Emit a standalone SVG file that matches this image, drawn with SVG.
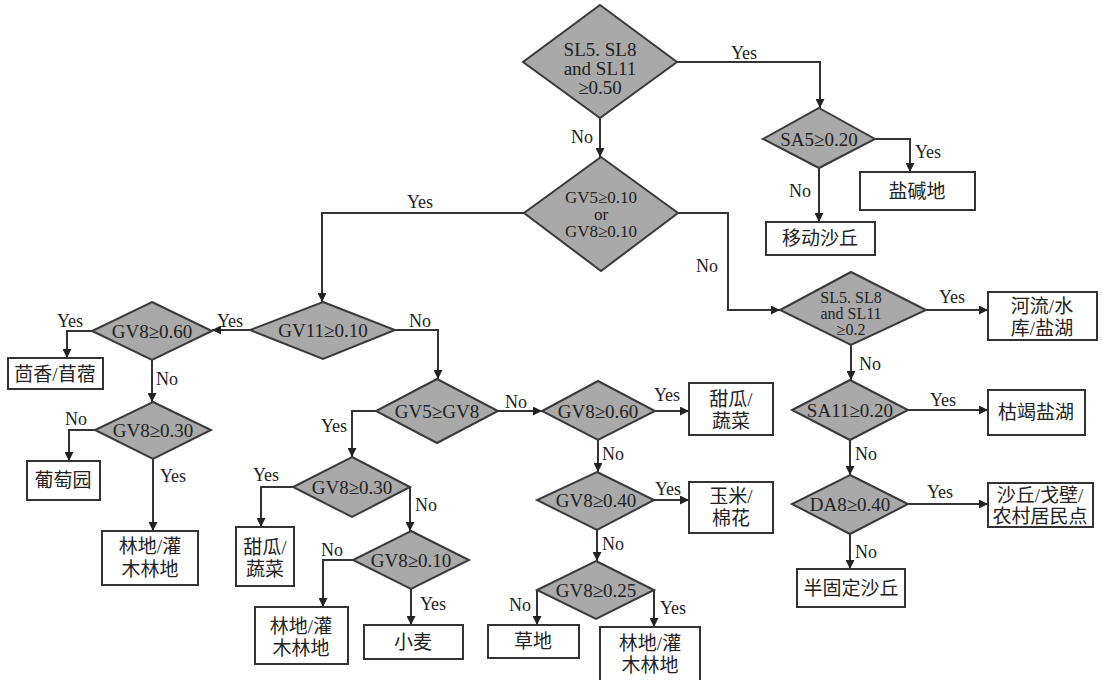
<svg xmlns="http://www.w3.org/2000/svg" width="1103" height="680" viewBox="0 0 1103 680">
<style>
.d{fill:#a9a9a9;stroke:#3a3a3a;stroke-width:2}
.b{fill:#fff;stroke:#333;stroke-width:2}
.c{fill:none;stroke:#333;stroke-width:2}
text{font-family:"Liberation Serif","Noto Sans CJK SC",serif;fill:#222;text-anchor:middle}
.t{font-size:19px}
.m{font-size:17px}
.s{font-size:16px}
.l{font-size:18px}
.z{font-size:19px}
</style>
<defs>
<marker id="ah" markerWidth="9" markerHeight="9" refX="9" refY="4.5" orient="auto" markerUnits="userSpaceOnUse">
<path d="M0,0 L9,4.5 L0,9 z" fill="#222"/>
</marker>
</defs>
<rect width="1103" height="680" fill="#fff"/>

<g id="connectors" class="c" marker-end="url(#ah)">
<path d="M677,62 H820 V108"/>
<path d="M600,118 V157"/>
<path d="M875,139 H910 V172"/>
<path d="M819,168 V222"/>
<path d="M678,213 H728 V310 H780"/>
<path d="M524,213 H322 V302"/>
<path d="M250,330 H212"/>
<path d="M395,330 H438 V379"/>
<path d="M92,331 H67 V358"/>
<path d="M152,360 V402"/>
<path d="M95,430 H69 V461"/>
<path d="M153,459 V531"/>
<path d="M376,411 H352 V457"/>
<path d="M498,411 H542"/>
<path d="M293,487 H261 V527"/>
<path d="M410,487 V531"/>
<path d="M353,560 H323 V607"/>
<path d="M411,589 V625"/>
<path d="M655,411 H689"/>
<path d="M598,440 V472"/>
<path d="M654,500 H689"/>
<path d="M597,530 V561"/>
<path d="M537,590 V625"/>
<path d="M654,590 V627"/>
<path d="M926,310 H988"/>
<path d="M851,345 V380"/>
<path d="M908,410 H988"/>
<path d="M850,440 V475"/>
<path d="M908,504 H988"/>
<path d="M850,534 V569"/>
</g>

<g id="labels" class="l">
<text x="744" y="59">Yes</text>
<text x="582" y="143">No</text>
<text x="928" y="158">Yes</text>
<text x="800" y="197">No</text>
<text x="707" y="272">No</text>
<text x="420" y="208">Yes</text>
<text x="230" y="327">Yes</text>
<text x="420" y="327">No</text>
<text x="70" y="327">Yes</text>
<text x="167" y="385">No</text>
<text x="76" y="425">No</text>
<text x="173" y="482">Yes</text>
<text x="334" y="432">Yes</text>
<text x="516" y="408">No</text>
<text x="266" y="481">Yes</text>
<text x="426" y="511">No</text>
<text x="332" y="556">No</text>
<text x="433" y="610">Yes</text>
<text x="667" y="401">Yes</text>
<text x="613" y="460">No</text>
<text x="668" y="495">Yes</text>
<text x="613" y="550">No</text>
<text x="520" y="611">No</text>
<text x="673" y="614">Yes</text>
<text x="952" y="303">Yes</text>
<text x="870" y="370">No</text>
<text x="943" y="406">Yes</text>
<text x="866" y="460">No</text>
<text x="940" y="498">Yes</text>
<text x="866" y="558">No</text>
</g>

<g id="n-d1"><polygon class="d" points="600,5 677,62 600,118 523,62"/>
<text class="t" x="600" y="56">SL5. SL8</text><text class="t" x="600" y="75">and SL11</text><text class="t" x="600" y="94">≥0.50</text></g>
<g id="n-sa5"><polygon class="d" points="819,108 875,139 819,168 763,139"/>
<text class="t" x="819" y="146">SA5≥0.20</text></g>
<g id="n-yanjiandi"><rect class="b" x="860" y="172" width="115" height="38"/><text class="z" x="917" y="198">盐碱地</text></g>
<g id="n-yidong"><rect class="b" x="766" y="222" width="109" height="33"/><text class="z" x="820" y="245">移动沙丘</text></g>
<g id="n-d2"><polygon class="d" points="601,157 678,213 601,271 524,213"/>
<text class="m" x="601" y="203">GV5≥0.10</text><text class="m" x="601" y="220">or</text><text class="m" x="601" y="237">GV8≥0.10</text></g>
<g id="n-gv11"><polygon class="d" points="323,302 395,330 323,359 250,330"/>
<text class="t" x="323" y="337">GV11≥0.10</text></g>
<g id="n-gv8a"><polygon class="d" points="152,302 212,331 152,360 92,331"/>
<text class="t" x="152" y="338">GV8≥0.60</text></g>
<g id="n-huixiang"><rect class="b" x="8" y="358" width="95" height="31"/><text class="z" x="55" y="381">茴香/苜蓿</text></g>
<g id="n-gv8b"><polygon class="d" points="153,402 211,430 153,459 95,430"/>
<text class="t" x="153" y="437">GV8≥0.30</text></g>
<g id="n-putao"><rect class="b" x="27" y="461" width="73" height="39"/><text class="z" x="63" y="487">葡萄园</text></g>
<g id="n-lindi1"><rect class="b" x="102" y="531" width="96" height="54"/><text class="z" x="150" y="553">林地/灌</text><text class="z" x="150" y="576">木林地</text></g>
<g id="n-gv5gv8"><polygon class="d" points="437,379 498,411 437,443 376,411"/>
<text class="t" x="437" y="418">GV5≥GV8</text></g>
<g id="n-gv8c"><polygon class="d" points="352,457 410,487 352,517 293,487"/>
<text class="t" x="352" y="494">GV8≥0.30</text></g>
<g id="n-tiangua1"><rect class="b" x="236" y="527" width="58" height="59"/><text class="z" x="265" y="554">甜瓜/</text><text class="z" x="265" y="576">蔬菜</text></g>
<g id="n-gv8d"><polygon class="d" points="411,531 469,560 411,589 353,560"/>
<text class="t" x="411" y="567">GV8≥0.10</text></g>
<g id="n-lindi2"><rect class="b" x="255" y="607" width="93" height="57"/><text class="z" x="301" y="633">林地/灌</text><text class="z" x="301" y="655">木林地</text></g>
<g id="n-xiaomai"><rect class="b" x="364" y="625" width="99" height="34"/><text class="z" x="413" y="649">小麦</text></g>
<g id="n-gv8e"><polygon class="d" points="598,381 655,411 598,440 542,411"/>
<text class="t" x="598" y="418">GV8≥0.60</text></g>
<g id="n-tiangua2"><rect class="b" x="689" y="383" width="84" height="52"/><text class="z" x="731" y="406">甜瓜/</text><text class="z" x="731" y="428">蔬菜</text></g>
<g id="n-gv8f"><polygon class="d" points="597,472 654,500 597,530 537,500"/>
<text class="t" x="596" y="507">GV8≥0.40</text></g>
<g id="n-yumi"><rect class="b" x="689" y="482" width="84" height="51"/><text class="z" x="731" y="503">玉米/</text><text class="z" x="731" y="525">棉花</text></g>
<g id="n-gv8g"><polygon class="d" points="596,561 654,590 596,619 537,590"/>
<text class="t" x="596" y="597">GV8≥0.25</text></g>
<g id="n-caodi"><rect class="b" x="488" y="625" width="91" height="33"/><text class="z" x="533" y="648">草地</text></g>
<g id="n-lindi3"><rect class="b" x="600" y="627" width="100" height="60"/><text class="z" x="650" y="650">林地/灌</text><text class="z" x="650" y="672">木林地</text></g>
<g id="n-d5"><polygon class="d" points="851,272 926,310 851,345 780,310"/>
<text class="s" x="851" y="303">SL5. SL8</text><text class="s" x="851" y="319">and SL11</text><text class="s" x="851" y="335">≥0.2</text></g>
<g id="n-heliu"><rect class="b" x="988" y="292" width="109" height="48"/><text class="z" x="1042" y="313">河流/水</text><text class="z" x="1042" y="335">库/盐湖</text></g>
<g id="n-sa11"><polygon class="d" points="850,380 908,410 850,440 792,410"/>
<text class="t" x="850" y="417">SA11≥0.20</text></g>
<g id="n-kujie"><rect class="b" x="988" y="390" width="97" height="45"/><text class="z" x="1036" y="419">枯竭盐湖</text></g>
<g id="n-da8"><polygon class="d" points="850,475 908,504 850,534 792,504"/>
<text class="t" x="850" y="511">DA8≥0.40</text></g>
<g id="n-shaqiu"><rect class="b" x="988" y="483" width="105" height="44"/><text class="z" x="1040" y="502">沙丘/戈壁/</text><text class="z" x="1040" y="523">农村居民点</text></g>
<g id="n-banguding"><rect class="b" x="797" y="569" width="108" height="38"/><text class="z" x="851" y="595">半固定沙丘</text></g>
</svg>
